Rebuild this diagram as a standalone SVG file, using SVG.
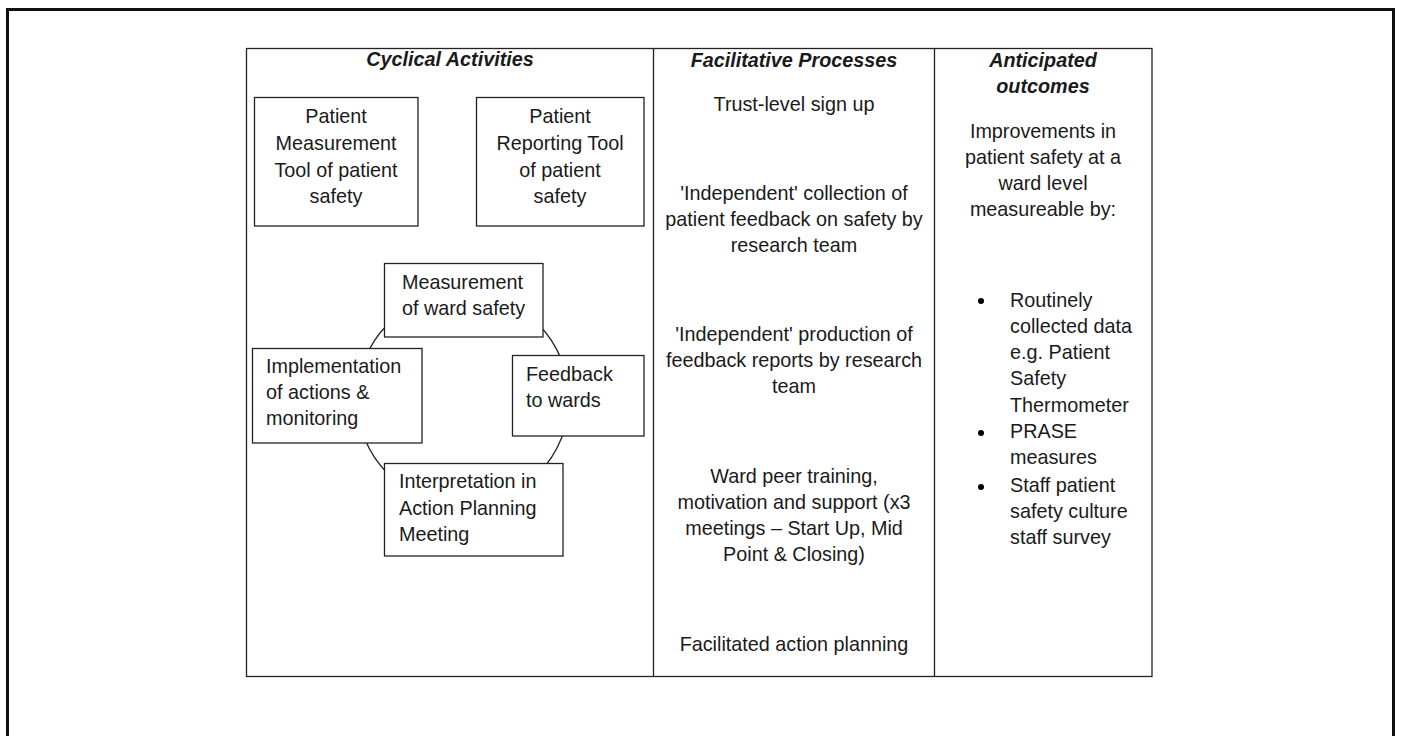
<svg xmlns="http://www.w3.org/2000/svg" width="1401" height="736" viewBox="0 0 1401 736">
<style>
text{font-family:"Liberation Sans",Arial,sans-serif;font-size:19.8px;fill:#1a1a1a}
.h{font-weight:bold;font-style:italic}
.c{text-anchor:middle}
.box{fill:#fff;stroke:#222;stroke-width:1.3}
.ln{stroke:#222;stroke-width:1.3;fill:none}
</style>
<rect x="7.5" y="9.5" width="1386" height="740" fill="#fff" stroke="#111" stroke-width="3"/>
<g id="table">
<rect x="246.5" y="48.5" width="905.5" height="628" class="ln"/>
<line x1="653.5" y1="48.5" x2="653.5" y2="676.5" class="ln"/>
<line x1="934.5" y1="48.5" x2="934.5" y2="676.5" class="ln"/>
</g>
<g id="headers">
<text class="h c" x="450" y="66">Cyclical Activities</text>
<text class="h c" x="794" y="67">Facilitative Processes</text>
<text class="h c" x="1043" y="67">Anticipated</text>
<text class="h c" x="1043" y="93">outcomes</text>
</g>
<g id="connectors">
<circle cx="463" cy="399" r="106" class="ln"/>
</g>
<g id="node-measurement-tool">
<rect x="254.5" y="97.5" width="163.5" height="128.5" class="box"/>
<text class="c" x="336" y="123">Patient</text>
<text class="c" x="336" y="150">Measurement</text>
<text class="c" x="336" y="177">Tool of patient</text>
<text class="c" x="336" y="203">safety</text>
</g>
<g id="node-reporting-tool">
<rect x="476.5" y="97.5" width="167.5" height="128.5" class="box"/>
<text class="c" x="560" y="123">Patient</text>
<text class="c" x="560" y="150">Reporting Tool</text>
<text class="c" x="560" y="177">of patient</text>
<text class="c" x="560" y="203">safety</text>
</g>
<g id="node-measurement-ward">
<rect x="384.5" y="263.5" width="158.5" height="73.5" class="box"/>
<text x="402" y="289">Measurement</text>
<text x="402" y="315">of ward safety</text>
</g>
<g id="node-feedback">
<rect x="512.5" y="355.5" width="131.5" height="80.5" class="box"/>
<text x="526" y="381">Feedback</text>
<text x="526" y="407">to wards</text>
</g>
<g id="node-interpretation">
<rect x="384.5" y="463.5" width="178.5" height="92.5" class="box"/>
<text x="399" y="488">Interpretation in</text>
<text x="399" y="515">Action Planning</text>
<text x="399" y="541">Meeting</text>
</g>
<g id="node-implementation">
<rect x="252.5" y="348.5" width="169.5" height="94.5" class="box"/>
<text x="266" y="373">Implementation</text>
<text x="266" y="399">of actions &amp;</text>
<text x="266" y="425">monitoring</text>
</g>
<g id="facilitative">
<text class="c" x="794" y="111">Trust-level sign up</text>
<text class="c" x="794" y="200">'Independent' collection of</text>
<text class="c" x="794" y="226">patient feedback on safety by</text>
<text class="c" x="794" y="252">research team</text>
<text class="c" x="794" y="341">'Independent' production of</text>
<text class="c" x="794" y="367">feedback reports by research</text>
<text class="c" x="794" y="393">team</text>
<text class="c" x="794" y="483">Ward peer training,</text>
<text class="c" x="794" y="509">motivation and support (x3</text>
<text class="c" x="794" y="535">meetings – Start Up, Mid</text>
<text class="c" x="794" y="561">Point &amp; Closing)</text>
<text class="c" x="794" y="651">Facilitated action planning</text>
</g>
<g id="outcomes">
<text class="c" x="1043" y="138">Improvements in</text>
<text class="c" x="1043" y="164">patient safety at a</text>
<text class="c" x="1043" y="190">ward level</text>
<text class="c" x="1043" y="216">measureable by:</text>
<circle cx="981" cy="301" r="3"/>
<circle cx="981" cy="433" r="3"/>
<circle cx="981" cy="487" r="3"/>
<text x="1010" y="307">Routinely</text>
<text x="1010" y="333">collected data</text>
<text x="1010" y="359">e.g. Patient</text>
<text x="1010" y="385">Safety</text>
<text x="1010" y="412">Thermometer</text>
<text x="1010" y="438">PRASE</text>
<text x="1010" y="464">measures</text>
<text x="1010" y="492">Staff patient</text>
<text x="1010" y="518">safety culture</text>
<text x="1010" y="544">staff survey</text>
</g>
</svg>
